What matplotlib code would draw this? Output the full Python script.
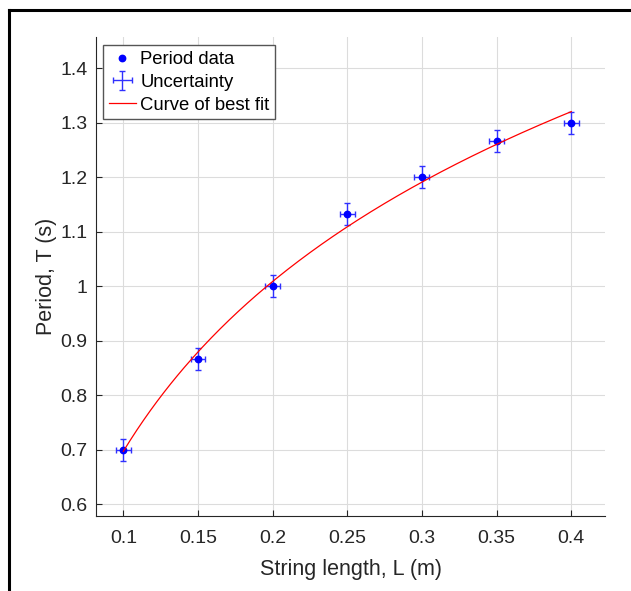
import matplotlib
matplotlib.use("Agg")
import matplotlib.pyplot as plt
import numpy as np
from matplotlib.lines import Line2D

# measured data
string_length = [0.10, 0.15, 0.20, 0.25, 0.30, 0.35, 0.40]
period = [0.7000, 0.8667, 1.0000, 1.1333, 1.2000, 1.2667, 1.3000]
period_err = [0.02] * 7
length_err = [0.005] * 7

x_ticks = [0.1, 0.15, 0.2, 0.25, 0.3, 0.35, 0.4]
x_tick_labels = ["0.1", "0.15", "0.2", "0.25", "0.3", "0.35", "0.4"]
y_ticks = [0.6, 0.7, 0.8, 0.9, 1.0, 1.1, 1.2, 1.3, 1.4]
y_tick_labels = ["0.6", "0.7", "0.8", "0.9", "1", "1.1", "1.2", "1.3", "1.4"]

plt.rcParams["font.family"] = ["Liberation Sans", "DejaVu Sans"]

# logarithmic curve of best fit: T = a*ln(L) + b
a, b = np.polyfit(np.log(string_length), period, 1)
L_fit = np.linspace(min(string_length), max(string_length), 200)
T_fit = a * np.log(L_fit) + b

fig = plt.figure(figsize=(6.31, 5.91), dpi=100)
ax = fig.add_axes([0.1517, 0.1274, 0.8076, 0.81])

dark = "#262626"
ax.grid(True, color="#dcdcdc", linewidth=0.8)
ax.set_axisbelow(True)

data_pts, = ax.plot(string_length, period, "o", color="blue", markersize=4.6,
                    label="Period data", zorder=4)
errs = ax.errorbar(string_length, period, yerr=period_err, xerr=length_err,
                   fmt="none", ecolor="#3030ff", elinewidth=1.0, capsize=2.4,
                   capthick=1.0, label="Uncertainty", zorder=3)
fit_line, = ax.plot(L_fit, T_fit, color="red", linewidth=0.9,
                    label="Curve of best fit", zorder=5)

ax.set_xlim(0.0815, 0.4228)
ax.set_ylim(0.579, 1.4574)
ax.set_xticks(x_ticks)
ax.set_xticklabels(x_tick_labels)
ax.set_yticks(y_ticks)
ax.set_yticklabels(y_tick_labels)

for side in ["top", "right"]:
    ax.spines[side].set_visible(False)
for side in ["left", "bottom"]:
    ax.spines[side].set_color(dark)
    ax.spines[side].set_linewidth(0.8)

ax.tick_params(direction="in", length=4, width=0.8, color=dark,
               labelcolor=dark, labelsize=14)
ax.tick_params(axis="x", pad=10)
ax.tick_params(axis="y", pad=6)

ax.set_xlabel("String length, L (m)", fontsize=15.5, color=dark, labelpad=9)
ax.set_ylabel("Period, T (s)", fontsize=15.5, color=dark, labelpad=2)

leg = ax.legend([data_pts, errs, fit_line],
                ["Period data", "Uncertainty", "Curve of best fit"],
                loc="upper left", bbox_to_anchor=(0.008, 0.99), fontsize=13.3,
                frameon=True, fancybox=False, framealpha=1,
                edgecolor="#555555", handlelength=1.45, handletextpad=0.25,
                borderpad=0.3, labelspacing=0.32, borderaxespad=0.2)
leg.get_frame().set_linewidth(1.0)
for txt in leg.get_texts():
    txt.set_color("black")

# figure border on top and left
fig.add_artist(Line2D([9 / 631, 1], [1 - 10 / 591, 1 - 10 / 591],
                      color="black", linewidth=2.2, transform=fig.transFigure))
fig.add_artist(Line2D([9 / 631, 9 / 631], [0, 1 - 10 / 591],
                      color="black", linewidth=2.2, transform=fig.transFigure))

fig.savefig("out.png", dpi=100)
